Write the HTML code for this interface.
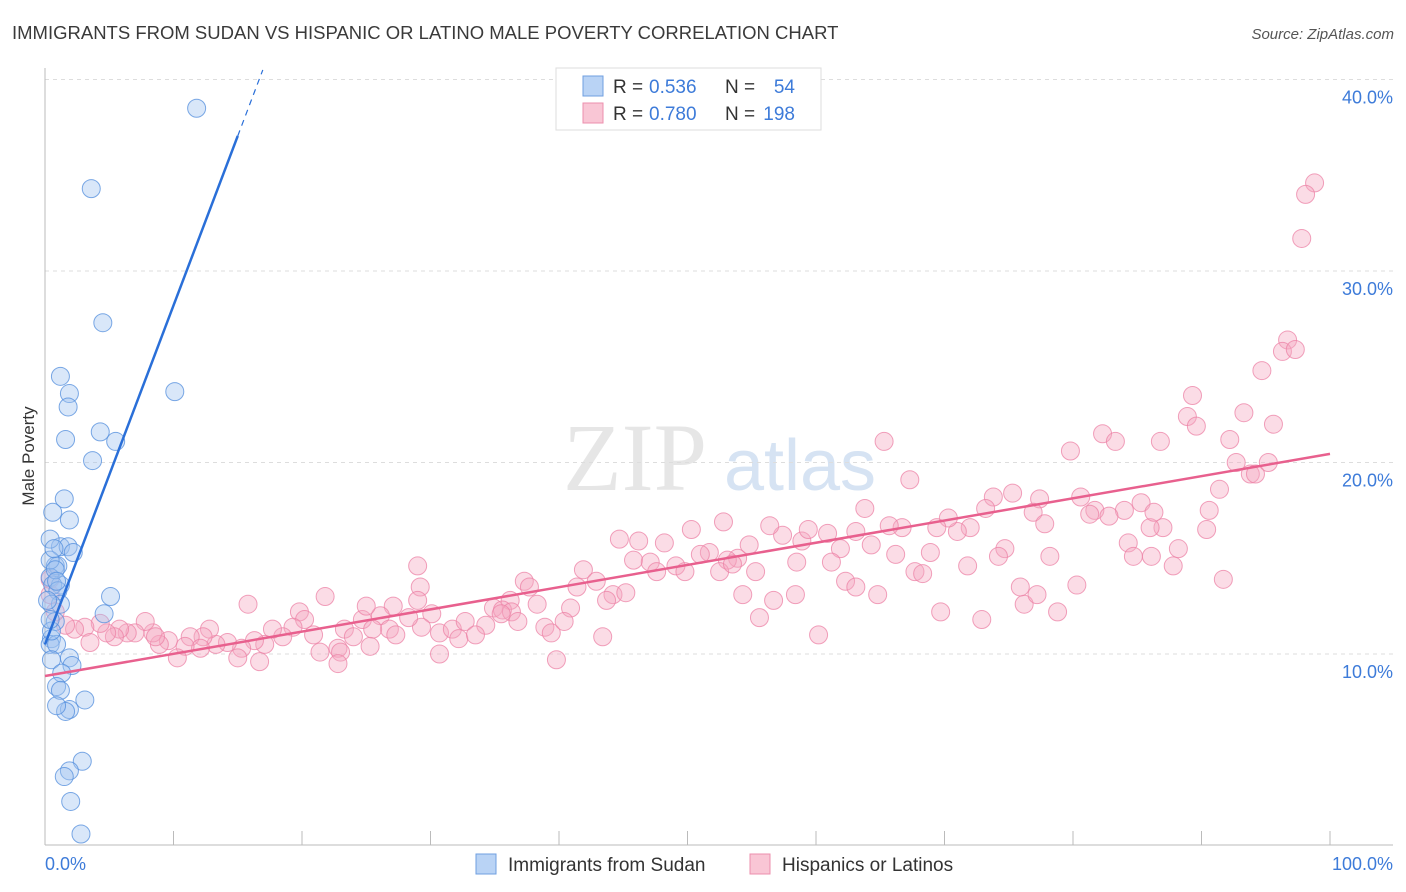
<!DOCTYPE html>
<html><head><meta charset="utf-8"><style>
body{margin:0;background:#fff;font-family:"Liberation Sans",sans-serif;}
svg{display:block}
</style></head><body>
<svg id="chart" width="1406" height="892">
<text x="12" y="39" font-size="18.5" fill="#3a3a3a">IMMIGRANTS FROM SUDAN VS HISPANIC OR LATINO MALE POVERTY CORRELATION CHART</text>
<text x="1394" y="39" font-size="15" fill="#555" text-anchor="end" font-style="italic">Source: ZipAtlas.com</text>
<text x="34" y="456" font-size="17" fill="#333" text-anchor="middle" transform="rotate(-90 34 456)">Male Poverty</text>
<g><text x="635" y="490" font-size="96" fill="#e6e6e6" font-family="Liberation Serif,serif" text-anchor="middle">ZIP</text><text x="800" y="490" font-size="72" fill="#d6e3f3" text-anchor="middle">atlas</text></g>
<g id="grid"></g><g id="axes"></g><g id="pinkPts"></g><g id="bluePts"></g><g id="lines"></g>
<g>
<rect x="556" y="68" width="265" height="62" fill="#fff" stroke="#ddd"/>
<rect x="583" y="76" width="20" height="20" fill="#b9d3f5" stroke="#6f9fe0"/>
<rect x="583" y="103" width="20" height="20" fill="#f9c6d5" stroke="#ec8fad"/>
<text x="613" y="93" font-size="19" fill="#333">R =</text><text x="649" y="93" font-size="19" fill="#3d7bd9">0.536</text>
<text x="725" y="93" font-size="19" fill="#333">N =</text><text x="795" y="93" font-size="19" fill="#3d7bd9" text-anchor="end">54</text>
<text x="613" y="120" font-size="19" fill="#333">R =</text><text x="649" y="120" font-size="19" fill="#3d7bd9">0.780</text>
<text x="725" y="120" font-size="19" fill="#333">N =</text><text x="795" y="120" font-size="19" fill="#3d7bd9" text-anchor="end">198</text>
</g>
<g>
<rect x="476" y="854" width="20" height="20" fill="#b9d3f5" stroke="#6f9fe0"/>
<text x="508" y="871" font-size="19" fill="#333">Immigrants from Sudan</text>
<rect x="750" y="854" width="20" height="20" fill="#f9c6d5" stroke="#ec8fad"/>
<text x="782" y="871" font-size="19" fill="#333">Hispanics or Latinos</text>
</g>
</svg>
<script>
const yTicks=[10,20,30,40];
const xTickLabels=["0.0%","100.0%"];
const blueTrend=[10.5,1.77];
const pinkTrend=[8.85,0.116];
const blueX=[11.8,3.6,4.5,10.1,1.2,1.9,1.8,4.3,5.5,1.6,3.7,1.5,0.6,1.9,1.2,1.8,2.2,0.8,1.0,0.4,1.2,0.6,1.0,5.1,1.2,4.6,0.5,0.8,0.5,0.4,0.9,1.9,0.5,2.1,1.3,0.9,1.2,3.1,1.9,1.6,0.9,2.9,1.9,1.5,2.0,2.8,0.4,0.4,0.8,0.2,0.5,0.9,0.7,0.4];
const blueY=[38.5,34.3,27.3,23.7,24.5,23.6,22.9,21.6,21.1,21.2,20.1,18.1,17.4,17.0,15.6,15.6,15.3,14.6,14.6,14.0,13.6,13.6,13.3,13.0,12.6,12.1,12.6,11.7,10.8,10.5,10.5,9.8,9.7,9.4,9.0,8.3,8.1,7.6,7.1,7.0,7.3,4.4,3.9,3.6,2.3,0.6,16.0,14.9,14.4,12.8,11.2,13.8,15.5,11.8];
const pinkX=[98.8,98.1,97.8,96.7,96.3,97.3,94.7,93.3,95.6,92.2,88.9,89.3,89.6,86.8,82.3,83.3,79.8,65.3,67.3,92.7,93.8,94.2,95.2,91.4,90.6,90.4,85.3,87.0,86.0,86.3,84.0,84.3,84.7,88.2,87.8,91.7,80.6,81.7,81.3,82.8,77.4,75.3,73.8,73.2,76.9,77.8,72.0,71.0,70.3,69.4,66.7,65.7,63.8,63.1,64.3,66.2,68.9,74.7,74.2,78.2,71.8,67.7,68.3,64.8,62.3,61.9,61.2,60.9,58.9,59.4,57.4,58.5,56.4,54.8,53.9,53.1,52.8,51.7,51.0,50.3,48.2,46.2,44.7,45.8,47.1,47.6,49.1,49.8,52.5,53.5,55.3,54.3,56.7,58.4,55.6,60.2,63.1,69.7,72.9,76.2,75.9,77.2,78.8,80.3,86.1,41.9,42.9,41.4,44.2,43.7,45.2,37.3,37.7,36.2,34.9,35.6,36.3,38.3,40.9,29.0,29.2,29.0,30.1,29.3,30.7,31.7,32.2,32.7,34.3,35.5,36.8,38.9,39.4,40.4,43.4,39.8,33.5,30.7,27.1,28.3,26.1,26.8,24.7,25.0,25.5,23.3,24.0,22.8,23.0,22.8,25.3,27.3,19.8,20.2,21.8,19.3,18.5,20.9,21.4,17.7,17.1,16.3,15.8,15.3,16.7,15.0,14.2,13.3,12.8,12.3,11.3,12.1,10.9,10.3,9.6,8.9,8.4,7.8,8.6,7.0,6.4,5.8,5.4,4.8,4.3,3.1,2.3,3.5,1.6,0.8,0.4,0.4];
const pinkY=[34.6,34.0,31.7,26.4,25.8,25.9,24.8,22.6,22.0,21.2,22.4,23.5,21.9,21.1,21.5,21.1,20.6,21.1,19.1,20.0,19.4,19.4,20.0,18.6,17.5,16.5,17.9,16.6,16.6,17.4,17.5,15.8,15.1,15.5,14.6,13.9,18.2,17.5,17.3,17.2,18.1,18.4,18.2,17.6,17.4,16.8,16.6,16.4,17.1,16.6,16.6,16.7,17.6,16.4,15.7,15.2,15.3,15.5,15.1,15.1,14.6,14.3,14.2,13.1,13.8,15.5,14.8,16.3,15.9,16.5,16.2,14.8,16.7,15.7,15.0,14.9,16.9,15.3,15.2,16.5,15.8,15.9,16.0,14.9,14.8,14.3,14.6,14.3,14.3,14.7,14.3,13.1,12.8,13.1,11.9,11.0,13.5,12.2,11.8,12.6,13.5,13.1,12.2,13.6,15.1,14.4,13.8,13.5,13.1,12.8,13.2,13.8,13.5,12.8,12.4,12.3,12.2,12.6,12.4,14.6,13.5,12.8,12.1,11.4,11.1,11.3,10.8,11.7,11.5,12.1,11.7,11.4,11.1,11.7,10.9,9.7,11.0,10.0,12.5,11.9,12.0,11.3,11.8,12.5,11.3,11.3,10.9,10.3,10.1,9.5,10.4,11.0,12.2,11.8,13.0,11.4,10.9,11.0,10.1,11.3,10.5,10.7,12.6,10.3,9.6,9.8,10.6,10.5,11.3,10.9,10.9,10.3,10.4,9.8,10.7,10.5,11.1,11.7,10.9,11.1,11.1,11.3,10.9,11.1,11.6,11.4,11.3,10.6,11.5,12.2,13.1,13.9];
const X0=45,X1=1330,Y0=845.5,PY=19.15;
const sx=v=>X0+(X1-X0)*v/100, sy=v=>Y0-v*PY;
const NS="http://www.w3.org/2000/svg";
function mk(tag,attrs,parent){const e=document.createElementNS(NS,tag);for(const k in attrs)e.setAttribute(k,attrs[k]);parent.appendChild(e);return e;}
const grid=document.getElementById('grid');
yTicks.forEach(t=>{
 const l=mk('line',{x1:X0,x2:1393,y1:sy(t),y2:sy(t),stroke:'#ddd','stroke-dasharray':'4,4'},grid);
 
 
 const tx=mk('text',{x:1393,y:sy(t)+24,'font-size':18,fill:'#3d7bd9','text-anchor':'end'},grid);
 tx.textContent=t.toFixed(1)+'%';
 
 
});
const ax=document.getElementById('axes');
mk('line',{x1:X0,x2:X0,y1:68,y2:845,stroke:'#bbb'},ax);
mk('line',{x1:X0,x2:1393,y1:845,y2:845,stroke:'#bbb'},ax);
for(let i=0;i<=10;i++){const t=mk('line',{x1:sx(i*10),x2:sx(i*10),y1:831,y2:845,stroke:'#bbb'},ax);
 
 }
const xl0=mk('text',{x:45,y:870,'font-size':18,fill:'#3d7bd9'},ax);xl0.textContent=xTickLabels[0];

const xl1=mk('text',{x:1393,y:870,'font-size':18,fill:'#3d7bd9','text-anchor':'end'},ax);xl1.textContent=xTickLabels[1];

const pg=document.getElementById('pinkPts');
pinkX.forEach((v,i)=>{const c=mk('circle',{cx:sx(v),cy:sy(pinkY[i]),r:9,fill:'rgba(246,168,192,0.4)',stroke:'rgba(236,130,165,0.75)','stroke-width':1},pg);
 
 });
const bg=document.getElementById('bluePts');
blueX.forEach((v,i)=>{const c=mk('circle',{cx:sx(v),cy:sy(blueY[i]),r:9,fill:'rgba(160,196,240,0.4)',stroke:'rgba(80,140,220,0.75)','stroke-width':1},bg);
 
 });
const lg=document.getElementById('lines');
const pl=mk('line',{x1:sx(0),y1:sy(pinkTrend[0]),x2:sx(100),y2:sy(pinkTrend[0]+pinkTrend[1]*100),stroke:'#e8608e','stroke-width':2.5},lg);


const bb=blueTrend[0],bm=blueTrend[1];
const xEnd=15, xDash=(40.5-bb)/bm;
const bl=mk('line',{x1:sx(0),y1:sy(bb),x2:sx(xEnd),y2:sy(bb+bm*xEnd),stroke:'#2a6fd8','stroke-width':2.5},lg);


const bd=mk('line',{x1:sx(xEnd),y1:sy(bb+bm*xEnd),x2:sx(xDash),y2:sy(bb+bm*xDash),stroke:'#2a6fd8','stroke-width':1.2,'stroke-dasharray':'6,5'},lg);


</script>
</body></html>
